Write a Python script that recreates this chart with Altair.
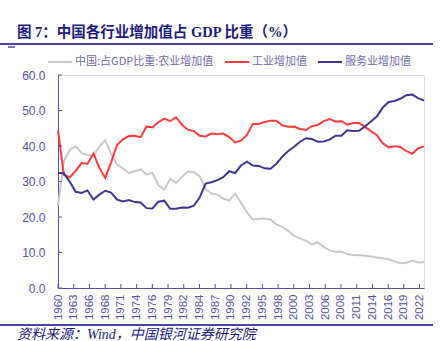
import altair as alt
import pandas as pd

years = list(range(1960, 2023))
agri = [23.2, 35.8, 38.9, 39.9, 38.0, 37.5, 37.2, 39.8, 41.6, 37.7,
        34.8, 33.7, 32.4, 32.9, 33.4, 32.0, 32.4, 29.0, 27.7, 30.7,
        29.6, 31.3, 32.8, 32.6, 31.5, 27.9, 26.6, 26.3, 25.2, 24.6,
        26.6, 24.0, 21.3, 19.3, 19.5, 19.6, 19.3, 17.9, 17.2, 16.1,
        14.7, 14.0, 13.3, 12.3, 12.9, 11.6, 10.6, 10.2, 10.2, 9.6,
        9.3, 9.2, 9.1, 8.9, 8.6, 8.4, 8.1, 7.5, 7.0, 7.1,
        7.7, 7.2, 7.3]
industry = [44.4, 31.9, 31.2, 33.0, 35.2, 35.0, 37.9, 33.9, 31.0, 35.4,
            40.3, 41.9, 42.8, 42.9, 42.5, 45.5, 45.2, 46.7, 47.7, 47.0,
            48.1, 46.0, 44.6, 44.2, 42.9, 42.7, 43.5, 43.3, 43.5, 42.5,
            41.0, 41.5, 43.1, 46.2, 46.2, 46.8, 47.1, 47.1, 45.8, 45.4,
            45.5, 44.8, 44.5, 45.6, 45.9, 47.0, 47.6, 46.9, 47.0, 46.0,
            46.5, 46.5, 45.4, 44.2, 43.1, 40.8, 39.6, 39.9, 39.7, 38.6,
            37.8, 39.3, 39.9]
services = [32.4, 32.3, 29.9, 27.1, 26.8, 27.5, 24.9, 26.3, 27.4, 26.9,
            24.9, 24.4, 24.8, 24.2, 24.1, 22.5, 22.4, 24.3, 24.6, 22.3,
            22.3, 22.7, 22.6, 23.2, 25.5, 29.4, 29.8, 30.4, 31.2, 32.9,
            32.4, 34.5, 35.6, 34.5, 34.4, 33.7, 33.6, 35.0, 37.0, 38.6,
            39.8, 41.2, 42.2, 42.0, 41.2, 41.3, 41.8, 42.9, 42.9, 44.4,
            44.2, 44.3, 45.5, 46.9, 48.3, 50.8, 52.4, 52.7, 53.3, 54.3,
            54.5, 53.5, 52.8]

series_names = ["中国:占GDP比重:农业增加值", "工业增加值", "服务业增加值"]
series_colors = ["#c8c8c8", "#ff3b3b", "#3d3791"]

tick_labels = ["1960", "1963", "1966", "1968", "1971", "1974", "1976", "1979",
               "1982", "1984", "1987", "1990", "1992", "1995", "1998", "2000",
               "2003", "2006", "2008", "2011", "2014", "2016", "2019", "2022"]
y_ticks = [0, 10, 20, 30, 40, 50, 60]

title_text = "图 7：中国各行业增加值占 GDP 比重（%）"
source_text = "资料来源：Wind，中国银河证券研究院"

W, H = 366, 213
AX = "#5651a3"
NAVY = "#1c1c7c"
step = 2.663
tick_vals = [1960 + i * step for i in range(len(tick_labels))]

rows = []
for name, vals in zip(series_names, [agri, industry, services]):
    for y, v in zip(years, vals):
        rows.append({"year": y, "value": v, "series": name})
df = pd.DataFrame(rows)

label_arr = "[" + ",".join("'%s'" % s for s in tick_labels) + "]"
xscale = alt.Scale(domain=[1960, 2022], nice=False, zero=False)
yscale = alt.Scale(domain=[0, 60], nice=False)

x_axis = alt.Axis(values=tick_vals, labelExpr=label_arr + "[round((datum.value-1960)/%s)]" % step,
                  labelAngle=270, labelFontSize=11.5, labelColor=AX, labelFont="Liberation Sans",
                  labelPadding=6, ticks=False, grid=False, title=None, domainColor=AX,
                  labelOverlap=False, labelFlush=False, labelBaseline="middle")
y_axis = alt.Axis(values=y_ticks, format=".1f", labelFontSize=12, labelColor=AX,
                  labelFont="Liberation Sans", labelPadding=13, ticks=False, grid=False,
                  title=None, domainColor=AX, labelOverlap=False, labelFlush=False)

lines = alt.Chart(df).mark_line(strokeWidth=2).encode(
    x=alt.X("year:Q", scale=xscale, axis=x_axis),
    y=alt.Y("value:Q", scale=yscale, axis=y_axis),
    color=alt.Color("series:N", sort=series_names,
                    scale=alt.Scale(domain=series_names, range=series_colors),
                    legend=alt.Legend(orient="none", legendX=-11, legendY=-26, direction="horizontal",
                                      symbolType="stroke", symbolSize=576, symbolStrokeWidth=2,
                                      labelFontSize=11, labelColor="#6e6aae", labelFont="Noto Sans CJK SC",
                                      columnPadding=7, labelOffset=2, title=None, padding=0)),
    order="year:Q",
)

xt = alt.Chart(pd.DataFrame({"t": tick_vals})).mark_rule(color=AX, strokeWidth=1).encode(
    x=alt.X("t:Q", scale=xscale, axis=x_axis), y=alt.value(H), y2=alt.value(H - 4))
yt = alt.Chart(pd.DataFrame({"t": y_ticks})).mark_rule(color=AX, strokeWidth=1).encode(
    y=alt.Y("t:Q", scale=yscale, axis=y_axis), x=alt.value(0), x2=alt.value(4))

deco = pd.DataFrame({"a": [0]})
title = alt.Chart(deco).mark_text(text=title_text, align="left", baseline="middle", fontSize=14.5,
                                  fontWeight="bold", color=NAVY,
                                  font='"Liberation Serif", "Noto Sans CJK SC"').encode(
    x=alt.value(-41), y=alt.value(-42))
source = alt.Chart(deco).mark_text(text=source_text, align="left", baseline="middle", fontSize=14,
                                   fontStyle="italic", color=NAVY,
                                   font='"Liberation Serif", "Noto Sans CJK SC"').encode(
    x=alt.value(-41), y=alt.value(260))
rule_top = alt.Chart(deco).mark_rule(color="#4b44a0", strokeWidth=2).encode(
    x=alt.value(-58), x2=alt.value(375), y=alt.value(-31))
rule_dash = alt.Chart(deco).mark_rule(color="#4b44a0", strokeWidth=1.5).encode(
    x=alt.value(-50), x2=alt.value(-43), y=alt.value(-28))
rule_bot = alt.Chart(deco).mark_rule(color="#4b44a0", strokeWidth=2).encode(
    x=alt.value(-58), x2=alt.value(375), y=alt.value(250))

chart = alt.layer(lines, xt, yt, rule_top, rule_dash, rule_bot, title, source).properties(
    width=W, height=H,
    padding={"left": 58, "top": 75, "right": 23, "bottom": 53},
    autosize=alt.AutoSizeParams(type="none"),
).configure_view(stroke=None).configure(background="white")

chart.save("out.html", embed_options={"renderer": "svg", "actions": False})
